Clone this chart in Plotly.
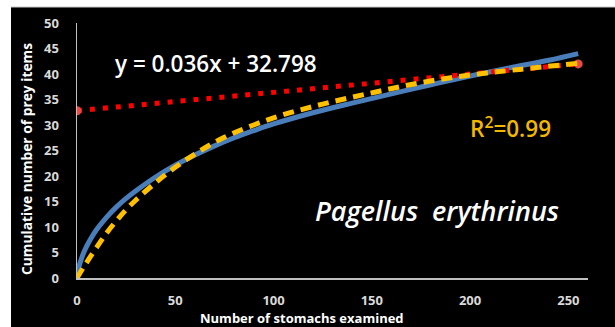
import plotly.graph_objects as go

# Observed cumulative curve (blue)
obs_x = [0, 3, 5, 7, 10, 15, 20, 25, 30, 40, 50, 60, 70, 80, 90, 100, 120, 140, 160, 180, 200, 220, 240, 255]
obs_y = [1.0, 4.6, 6.3, 7.7, 9.5, 11.9, 13.9, 15.6, 17.1, 19.8, 22.1, 24.1, 25.9, 27.5, 28.9, 30.2, 32.4, 34.3, 36.1, 37.9, 39.6, 41.2, 42.7, 44.0]

# Fitted curve (yellow dashed)
fit_x = [0, 3, 6, 10, 15, 20, 25, 30, 40, 50, 60, 75, 100, 125, 150, 175, 200, 225, 255]
fit_y = [0.0, 1.9, 3.7, 6.0, 8.8, 11.2, 13.4, 15.3, 18.7, 21.7, 24.3, 27.6, 31.4, 34.1, 36.3, 38.3, 39.8, 40.9, 42.1]

# Linear trend (red dotted): y = 0.036x + 32.798
trend_x = [0, 255]
trend_y = [32.798, 41.978]

x_ticks = [0, 50, 100, 150, 200, 250]
y_ticks = [0, 5, 10, 15, 20, 25, 30, 35, 40, 45, 50]

equation_text = "y = 0.036x + 32.798"
r2_text = "R<sup>2</sup>=0.99"
species_text = "<i>Pagellus  erythrinus</i>"
x_title = "Number of stomachs examined"
y_title = "Cumulative number of prey items"

FONT = "Open Sans"
AXIS_COLOR = "#bfbfbf"
TICK_COLOR = "#d9d9d9"

ML, MR, MT, MB = 77, 27, 23, 49
W, H = 615, 327

fig = go.Figure()
fig.add_trace(go.Scatter(x=obs_x, y=obs_y, mode="lines", line=dict(color="#4a7ebb", width=5, shape="spline"),
                         hoverinfo="skip", showlegend=False))
fig.add_trace(go.Scatter(x=trend_x, y=trend_y, mode="lines+markers",
                         line=dict(color="#ff0000", width=5, dash="5px,8px"),
                         marker=dict(color="#e84a48", size=9),
                         hoverinfo="skip", showlegend=False))
fig.add_trace(go.Scatter(x=fit_x, y=fit_y, mode="lines", line=dict(color="#ffc000", width=5, dash="11px,7px", shape="spline"),
                         hoverinfo="skip", showlegend=False))

fig.update_layout(
    width=W, height=H,
    margin=dict(l=ML, r=MR, t=MT, b=MB),
    paper_bgcolor="black", plot_bgcolor="black",
    font=dict(family=FONT, color=TICK_COLOR, size=13, weight="bold"),
    showlegend=False,
    xaxis=dict(range=[0, 260], tickvals=x_ticks, showgrid=False, zeroline=False,
               showline=True, linecolor=AXIS_COLOR, linewidth=1.5, ticks="",
               ticklabelstandoff=10, fixedrange=True,
               tickfont=dict(family=FONT, size=13, color=TICK_COLOR, weight="bold")),
    yaxis=dict(range=[0, 50], tickvals=y_ticks, showgrid=False, zeroline=False,
               showline=True, linecolor=AXIS_COLOR, linewidth=1.5, ticks="",
               ticklabelstandoff=14, fixedrange=True,
               tickfont=dict(family=FONT, size=13, color=TICK_COLOR, weight="bold")),
)

plot_w = W - ML - MR
plot_h = H - MT - MB
def px_x(p):
    return (p - ML) / plot_w
def px_y(p):
    return (H - MB - p) / plot_h

# white frame strips (top and left)
fig.add_shape(type="rect", xref="paper", yref="paper", x0=px_x(-5), x1=px_x(620), y0=px_y(7), y1=px_y(-5),
              fillcolor="white", line=dict(width=0), layer="below")
fig.add_shape(type="rect", xref="paper", yref="paper", x0=px_x(-5), x1=px_x(11), y0=px_y(330), y1=px_y(-5),
              fillcolor="white", line=dict(width=0), layer="below")
fig.add_shape(type="line", xref="paper", yref="paper", x0=px_x(11), x1=px_x(620), y0=px_y(7), y1=px_y(7),
              line=dict(color="#c8c8c8", width=1), layer="below")

fig.add_annotation(x=px_x(301.5), y=px_y(318), xref="paper", yref="paper", text=x_title, showarrow=False,
                   font=dict(family=FONT, size=13, color="white", weight="bold"), xanchor="center", yanchor="middle")
fig.add_annotation(x=px_x(26), y=px_y(159), xref="paper", yref="paper", text=y_title, showarrow=False, textangle=-90,
                   font=dict(family=FONT, size=13.8, color="white", weight="bold"), xanchor="center", yanchor="middle")
fig.add_annotation(x=px_x(113), y=px_y(63), xref="paper", yref="paper", text=equation_text, showarrow=False,
                   font=dict(family=FONT, size=22.5, color="white", weight=600), xanchor="left", yanchor="middle")
fig.add_annotation(x=px_x(468), y=px_y(127), xref="paper", yref="paper", text=r2_text, showarrow=False,
                   font=dict(family=FONT, size=22.5, color="#f2b800", weight=600), xanchor="left", yanchor="middle")
fig.add_annotation(x=px_x(313), y=px_y(210), xref="paper", yref="paper", text=species_text, showarrow=False,
                   font=dict(family=FONT, size=27, color="white", weight=600), xanchor="left", yanchor="middle")

fig.write_html("out.html", config={"displayModeBar": False, "staticPlot": True},
               post_script="document.body.style.margin='0';document.body.style.overflow='hidden';")
